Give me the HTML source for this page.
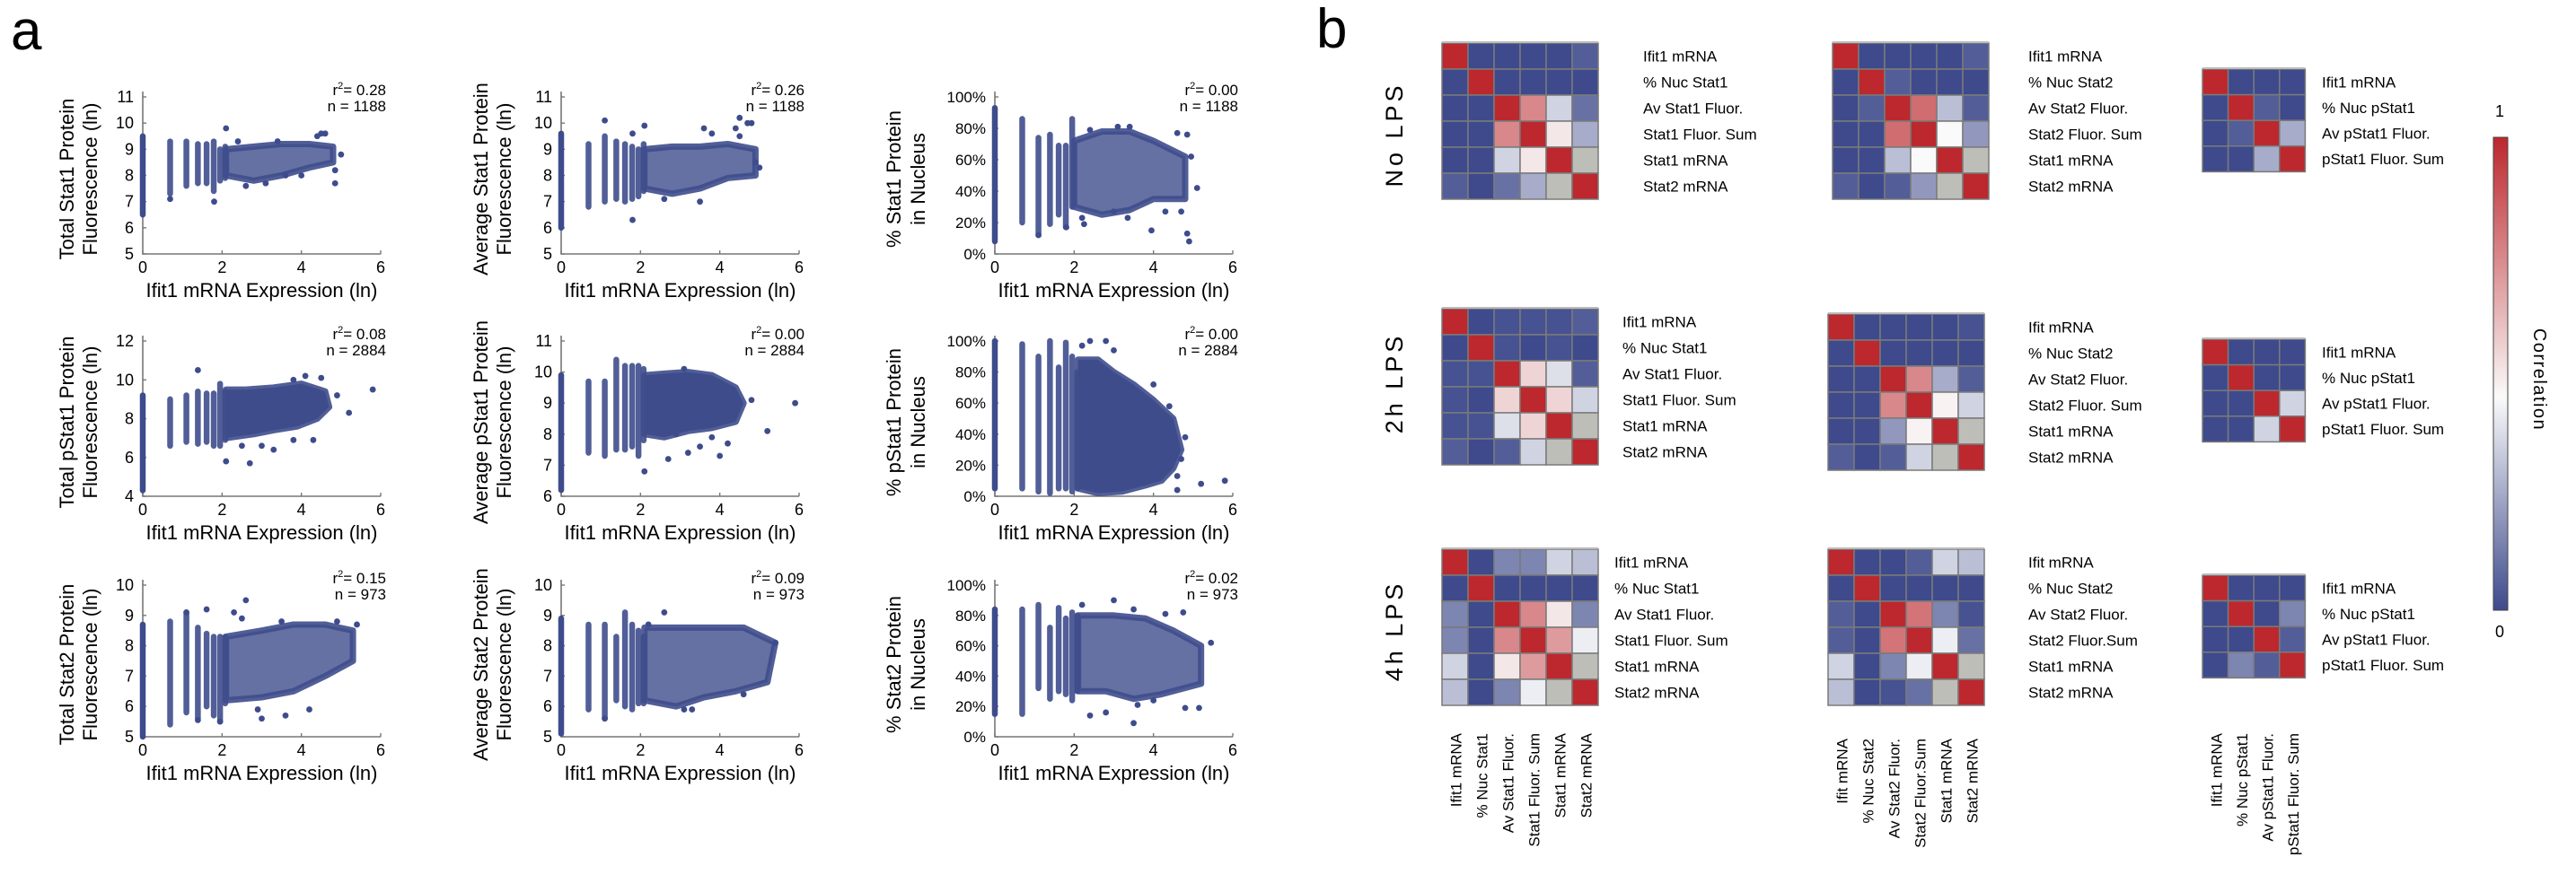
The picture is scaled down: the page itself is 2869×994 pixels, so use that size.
<!DOCTYPE html>
<html><head><meta charset="utf-8">
<style>
html,body{margin:0;padding:0;background:#fff;}
svg{display:block;font-family:"Liberation Sans",sans-serif;}
.nar{font-family:"Liberation Sans Narrow","Liberation Sans",sans-serif;}
</style></head>
<body>
<svg id="fig" width="2869" height="994" viewBox="0 0 2869 994" xmlns="http://www.w3.org/2000/svg">
<text x="12" y="55" font-size="62">a</text>
<text x="1466" y="53" font-size="62">b</text>
</svg>
<script>
// ---------- Scatter data (data units: x = ln Ifit1 mRNA, y = axis units) ----------
const p1Cols=[[0,6.5,9.5],[0.69,7.3,9.3],[1.1,7.6,9.3],[1.39,7.7,9.2],[1.61,7.7,9.2],[1.79,7.4,9.3],[1.95,7.8,9.0],[2.08,7.9,9.1]];
const p1Blob=[[2.1,8.0],[2.8,7.8],[3.5,8.0],[4.2,8.3],[4.8,8.5],[4.8,9.1],[4.2,9.2],[3.5,9.2],[2.8,9.1],[2.1,9.0]];
const p1Pts=[[2.1,9.8],[1.8,7.0],[0.69,7.1],[4.5,9.6],[4.6,9.6],[4.85,7.7],[4.85,8.2],[5.0,8.8],[2.6,7.6],[3.1,7.7],[4.0,8.0],[3.6,8.0],[4.4,9.5],[2.4,9.3],[3.4,9.3]];
const p2Cols=[[0,6.0,9.6],[0.69,6.8,9.2],[1.1,7.0,9.5],[1.39,7.1,9.3],[1.61,7.0,9.2],[1.79,7.1,9.1],[1.95,7.2,9.0],[2.08,7.4,9.2]];
const p2Blob=[[2.1,7.5],[2.8,7.3],[3.5,7.5],[4.2,7.9],[4.9,8.0],[4.9,9.0],[4.2,9.2],[3.5,9.1],[2.8,9.1],[2.1,9.0]];
const p2Pts=[[1.1,10.1],[1.8,6.3],[2.1,9.9],[3.6,9.8],[3.8,9.6],[4.4,9.8],[4.5,10.2],[4.7,10.0],[4.8,10.0],[3.5,7.0],[2.6,7.1],[4.9,8.5],[5.0,8.3],[4.5,9.5],[1.8,9.6]];
const p3Cols=[[0,8,93],[0.69,20,86],[1.1,12,74],[1.39,19,76],[1.61,25,69],[1.79,17,69],[1.95,30,86]];
const p3Blob=[[2.0,30],[2.7,25],[3.4,28],[4.0,35],[4.8,35],[4.8,62],[4.0,72],[3.4,78],[2.7,78],[2.0,72]];
const p3Pts=[[1.1,12],[1.8,17],[2.25,19],[3.95,15],[4.85,13],[4.9,8],[5.1,42],[2.4,79],[3.1,81],[3.4,81],[4.6,77],[4.85,76],[3.0,27],[3.35,23],[4.3,27],[4.7,27],[4.95,62],[2.2,23]];
const p4Cols=[[0,4.3,9.2],[0.69,6.6,9.0],[1.1,6.8,9.2],[1.39,6.7,9.4],[1.61,6.8,9.3],[1.79,6.6,9.3],[1.95,6.6,9.8],[2.08,6.9,9.4]];
const p4Blob=[[2.1,7.0],[2.8,7.2],[3.3,7.4],[3.9,7.6],[4.4,8.0],[4.7,8.6],[4.6,9.4],[4.0,9.8],[3.3,9.6],[2.6,9.5],[2.1,9.5]];
const p4Pts=[[1.39,10.5],[2.1,5.8],[2.7,5.7],[3.3,6.4],[3.0,6.6],[5.8,9.5],[5.2,8.3],[4.5,10.1],[4.1,10.2],[3.8,10.0],[3.8,6.9],[4.3,6.9],[2.5,6.6],[4.9,9.2]];
const p5Cols=[[0,6.2,9.9],[0.69,7.4,9.7],[1.1,7.3,9.7],[1.39,7.5,10.4],[1.61,7.5,10.2],[1.79,7.6,10.2],[1.95,7.3,10.2],[2.08,7.8,10.1]];
const p5Blob=[[2.1,8.0],[2.6,7.9],[3.2,8.1],[3.8,8.2],[4.4,8.4],[4.6,9.0],[4.4,9.5],[3.8,9.9],[3.2,10.0],[2.6,9.95],[2.1,9.9]];
const p5Pts=[[2.1,6.8],[2.7,7.2],[3.2,7.4],[3.5,7.6],[4.0,7.3],[4.2,7.7],[5.2,8.1],[5.9,9.0],[4.8,9.1],[3.1,10.1],[2.9,8.0],[3.8,7.9]];
const p6Cols=[[0,5,100],[0.69,5,98],[1.1,3,90],[1.39,2,100],[1.61,5,83],[1.79,5,99],[1.95,3,90],[2.08,5,80]];
const p6Blob=[[2.1,5],[2.6,2],[3.2,3],[3.8,7],[4.2,10],[4.5,18],[4.7,30],[4.5,50],[4.0,62],[3.5,72],[3.0,80],[2.6,88],[2.1,88]];
const p6Pts=[[5.2,8],[5.8,10],[4.8,38],[4.7,24],[4.4,58],[4.6,4],[2.8,100],[2.4,100],[3.0,94],[2.2,97],[4.0,72],[4.6,13]];
const p7Cols=[[0,5.0,8.7],[0.69,5.4,8.8],[1.1,5.8,9.1],[1.39,5.6,8.6],[1.61,6.0,8.4],[1.79,5.7,8.3],[1.95,5.5,8.3],[2.08,6.1,8.3]];
const p7Blob=[[2.1,6.2],[3.0,6.3],[3.8,6.5],[4.6,7.0],[5.3,7.5],[5.3,8.5],[4.6,8.7],[3.8,8.7],[3.0,8.5],[2.1,8.3]];
const p7Pts=[[1.61,9.2],[2.3,9.1],[2.6,9.5],[1.1,9.1],[2.5,8.9],[3.0,5.6],[3.6,5.7],[4.2,5.9],[2.9,5.9],[4.9,8.8],[5.4,8.7],[3.5,8.8],[1.95,5.5],[1.39,5.55]];
const p8Cols=[[0,5.1,8.9],[0.69,5.9,8.7],[1.1,5.6,8.7],[1.39,6.2,8.3],[1.61,6.0,9.1],[1.79,5.9,8.7],[1.95,6.1,8.5],[2.08,6.1,8.3]];
const p8Blob=[[2.1,6.2],[2.9,6.0],[3.6,6.3],[4.4,6.5],[5.2,6.8],[5.4,8.1],[4.6,8.6],[3.8,8.6],[3.0,8.6],[2.1,8.6]];
const p8Pts=[[2.6,9.1],[3.1,5.9],[3.3,5.9],[4.6,6.4],[5.4,8.1],[1.1,5.6],[2.2,8.7]];
const p9Cols=[[0,15,84],[0.69,15,84],[1.1,32,87],[1.39,25,72],[1.61,30,85],[1.79,28,78],[1.95,24,82],[2.08,30,80]];
const p9Blob=[[2.1,30],[2.8,30],[3.5,25],[4.2,28],[5.2,35],[5.2,60],[4.5,70],[3.8,78],[3.0,80],[2.1,80]];
const p9Pts=[[2.4,14],[2.8,16],[3.5,9],[4.8,19],[5.15,19],[5.45,62],[3.0,90],[2.2,87],[3.5,84],[4.75,82],[4.3,81],[3.6,21],[4.0,24]];
const xTicks=[0,2,4,6];
const yTicks1=[5,6,7,8,9,10,11], yTicks4=[4,6,8,10,12], yTicks5=[6,7,8,9,10,11], yTicks7=[5,6,7,8,9,10];
const pctTicks=[0,20,40,60,80,100];
const r2Vals=["0.28","0.26","0.00","0.08","0.00","0.00","0.15","0.09","0.02"];
const nVals=["1188","1188","1188","2884","2884","2884","973","973","973"];

// ---------- Heatmap data (correlation 0..1; -1 = grey/undefined) ----------
const hmNo1=[[1,0,0,0,0,0.05],[0,1,0,0,0,0],[0,0,1,0.75,0.35,0.1],[0,0,0.75,1,0.5,0.25],[0,0,0.35,0.5,1,-1],[0.05,0,0.1,0.25,-1,1]];
const hmNo2=[[1,0,0,0,0,0.05],[0,1,0.05,0,0,0],[0,0.05,1,0.82,0.3,0.05],[0,0,0.82,1,0.45,0.2],[0,0,0.3,0.45,1,-1],[0.05,0,0.05,0.2,-1,1]];
const hmNo3=[[1,0,0,0],[0,1,0.05,0],[0,0.05,1,0.25],[0,0,0.25,1]];
const hm2h1=[[1,0,0.02,0.02,0.02,0.05],[0,1,0.02,0,0.02,0],[0.02,0.02,1,0.55,0.38,0.05],[0.02,0,0.55,1,0.55,0.35],[0.02,0.02,0.38,0.55,1,-1],[0.05,0,0.05,0.35,-1,1]];
const hm2h2=[[1,0,0,0,0,0.02],[0,1,0,0,0,0],[0,0,1,0.75,0.25,0.05],[0,0,0.75,1,0.47,0.35],[0,0,0.2,0.47,1,-1],[0.05,0,0.05,0.35,-1,1]];
const hm2h3=[[1,0,0,0],[0,1,0,0],[0,0,1,0.35],[0,0,0.35,1]];
const hm4h1=[[1,0,0.15,0.15,0.35,0.3],[0,1,0,0,0,0],[0.15,0,1,0.75,0.5,0.15],[0.15,0,0.75,1,0.7,0.42],[0.35,0,0.5,0.7,1,-1],[0.3,0,0.15,0.42,-1,1]];
const hm4h2=[[1,0,0,0.05,0.35,0.3],[0,1,0,0,0,0],[0.05,0,1,0.8,0.15,0.02],[0.05,0,0.8,1,0.42,0.1],[0.35,0,0.15,0.42,1,-1],[0.3,0,0.02,0.1,-1,1]];
const hm4h3=[[1,0,0,0],[0,1,0,0.15],[0,0,1,0.05],[0,0.15,0.05,1]];
const labA=["Ifit1 mRNA","% Nuc Stat1","Av Stat1 Fluor.","Stat1 Fluor. Sum","Stat1 mRNA","Stat2 mRNA"];
const labBno=["Ifit1 mRNA","% Nuc Stat2","Av Stat2 Fluor.","Stat2 Fluor. Sum","Stat1 mRNA","Stat2 mRNA"];
const labB2h=["Ifit mRNA","% Nuc Stat2","Av Stat2 Fluor.","Stat2 Fluor. Sum","Stat1 mRNA","Stat2 mRNA"];
const labB4h=["Ifit mRNA","% Nuc Stat2","Av Stat2 Fluor.","Stat2 Fluor.Sum","Stat1 mRNA","Stat2 mRNA"];
const labC=["Ifit1 mRNA","% Nuc pStat1","Av pStat1 Fluor.","pStat1 Fluor. Sum"];
const conditions=["No LPS","2h LPS","4h LPS"];

const NS="http://www.w3.org/2000/svg";
const svg=document.getElementById('fig');
const DOT="#3e4c8c";
function mk(tag,attrs,parent){const e=document.createElementNS(NS,tag);for(const k in attrs)e.setAttribute(k,attrs[k]);(parent||svg).appendChild(e);return e;}
function txt(s,attrs,parent){const e=mk('text',attrs,parent);e.textContent=s;return e;}

function scatter(cfg){
  const g=mk('g',{});
  
  
  const sx=v=>cfg.x0+v/6*(cfg.x1-cfg.x0);
  const sy=v=>cfg.y0-(v-cfg.ymin)/(cfg.ymax-cfg.ymin)*(cfg.y0-cfg.y1);
  const cls=cfg.pct?'':'nar';
  const ax=mk('path',{d:`M${cfg.x0},${cfg.y1-6}V${cfg.y0}H${cfg.x1}`,fill:'none',stroke:'#777','stroke-width':1.6},g);
  
  
  xTicks.forEach(t=>{
    mk('line',{x1:sx(t),x2:sx(t),y1:cfg.y0,y2:cfg.y0-4,stroke:'#777','stroke-width':1.4},g);
    const l=txt(String(t),{x:sx(t),y:cfg.y0+21,'font-size':18,'text-anchor':'middle',class:cls},g);
    
    
  });
  cfg.ticks.forEach(t=>{
    mk('line',{x1:cfg.x0,x2:cfg.x0+4,y1:sy(t),y2:sy(t),stroke:'#777','stroke-width':1.4},g);
    const l=txt(cfg.pct?t+'%':String(t),{x:cfg.x0-10,y:sy(t)+6,'font-size':cfg.pct?17:18,'text-anchor':'end',class:cls},g);
    
    
  });
  const bl=mk('polygon',{points:cfg.blob.map(p=>sx(p[0])+','+sy(p[1])).join(' '),fill:DOT,'fill-opacity':cfg.op,stroke:DOT,'stroke-width':7,'stroke-linejoin':'round','stroke-opacity':0.9},g);
  
  
  cfg.cols.forEach(c=>{
    const l=mk('line',{x1:sx(c[0]),x2:sx(c[0]),y1:sy(c[1]),y2:sy(c[2]),stroke:DOT,'stroke-width':6.5,'stroke-linecap':'round','stroke-opacity':c[0]===0?1:0.9},g);
    
    
  });
  cfg.pts.forEach(p=>{
    const c=mk('circle',{cx:sx(p[0]),cy:sy(p[1]),r:3.4,fill:DOT},g);
    
    
  });
  const xt=txt('Ifit1 mRNA Expression (ln)',{x:(cfg.x0+cfg.x1)/2,y:cfg.y0+48,'font-size':22,'text-anchor':'middle',textLength:258,lengthAdjust:'spacingAndGlyphs'},g);
  
  
  const cy=(cfg.y0+cfg.y1)/2+4;
  cfg.ytitle.forEach((s,i)=>{
    const bx=cfg.tx[i];
    const t=txt(s,{x:bx,y:cy,'font-size':22,'text-anchor':'middle',transform:`rotate(-90 ${bx} ${cy})`},g);
    
    
  });
  const r=txt('',{x:cfg.x1+6,y:cfg.y1-2,'font-size':17,'text-anchor':'end',class:cls},g);
  
  
  const t1=mk('tspan',{},r);t1.textContent='r';
  const t2=mk('tspan',{dy:-7,'font-size':11},r);t2.textContent='2';
  const t3=mk('tspan',{dy:7},r);t3.textContent='= '+cfg.r2;
  const n=txt('n = '+cfg.n,{x:cfg.x1+6,y:cfg.y1+16,'font-size':17,'text-anchor':'end',class:cls},g);
  
  
}
const colX=[[159,424],[625,890],[1108,1373]];
const rowY=[[283,108],[553,380],[821,652]];
const tX=[[82,108],[543,569],[1003,1030]];
const defs=[
 {name:'scatter-total-stat1',cols:p1Cols,blob:p1Blob,pts:p1Pts,ymin:5,ymax:11,ticks:yTicks1,ytitle:['Total Stat1 Protein','Fluorescence (ln)'],op:0.8},
 {name:'scatter-average-stat1',cols:p2Cols,blob:p2Blob,pts:p2Pts,ymin:5,ymax:11,ticks:yTicks1,ytitle:['Average Stat1 Protein','Fluorescence (ln)'],op:0.8},
 {name:'scatter-nuclear-stat1',cols:p3Cols,blob:p3Blob,pts:p3Pts,ymin:0,ymax:100,ticks:pctTicks,pct:true,ytitle:['% Stat1 Protein','in Nucleus'],op:0.8},
 {name:'scatter-total-pstat1',cols:p4Cols,blob:p4Blob,pts:p4Pts,ymin:4,ymax:12,ticks:yTicks4,ytitle:['Total pStat1 Protein','Fluorescence (ln)'],op:1},
 {name:'scatter-average-pstat1',cols:p5Cols,blob:p5Blob,pts:p5Pts,ymin:6,ymax:11,ticks:yTicks5,ytitle:['Average pStat1 Protein','Fluorescence (ln)'],op:1},
 {name:'scatter-nuclear-pstat1',cols:p6Cols,blob:p6Blob,pts:p6Pts,ymin:0,ymax:100,ticks:pctTicks,pct:true,ytitle:['% pStat1 Protein','in Nucleus'],op:1},
 {name:'scatter-total-stat2',cols:p7Cols,blob:p7Blob,pts:p7Pts,ymin:5,ymax:10,ticks:yTicks7,ytitle:['Total Stat2 Protein','Fluorescence (ln)'],op:0.8},
 {name:'scatter-average-stat2',cols:p8Cols,blob:p8Blob,pts:p8Pts,ymin:5,ymax:10,ticks:yTicks7,ytitle:['Average Stat2 Protein','Fluorescence (ln)'],op:0.8},
 {name:'scatter-nuclear-stat2',cols:p9Cols,blob:p9Blob,pts:p9Pts,ymin:0,ymax:100,ticks:pctTicks,pct:true,ytitle:['% Stat2 Protein','in Nucleus'],op:0.8}
];
defs.forEach((d,i)=>{
  const r=Math.floor(i/3),c=i%3;
  d.x0=colX[c][0];d.x1=colX[c][1];d.y0=rowY[r][0];d.y1=rowY[r][1];d.tx=tX[c];
  d.r2=r2Vals[i];d.n=nVals[i];
  scatter(d);
});

function cmap(v){
  if(v<0) return 'rgb(190,190,185)';
  const B=[62,74,140],W=[250,250,250],R=[188,40,45];
  let a,b,t;
  if(v<0.45){a=B;b=W;t=v/0.45;}else{a=W;b=R;t=(v-0.45)/0.55;}
  return 'rgb('+a.map((x,i)=>Math.round(x+(b[i]-x)*t)).join(',')+')';
}
function heatmap(M,labels,x,y,lx,name){
  const g=mk('g',{});
  
  
  const n=M.length,cs=n===6?29:28.6;
  M.forEach((row,i)=>row.forEach((v,j)=>{
    const r=mk('rect',{x:x+j*cs,y:y+i*cs,width:cs,height:cs,fill:cmap(v),stroke:'#7a7a7a','stroke-width':1.5},g);
    
    
  }));
  mk('line',{x1:x,x2:x+n*cs,y1:y-1,y2:y-1,stroke:'#bbb','stroke-width':2},g);
  labels.forEach((s,i)=>{
    const t=txt(s,{x:lx,y:y+i*cs+cs/2+6,'font-size':17,class:'nar'},g);
    
    
  });
  return cs;
}
const mats=[[hmNo1,hmNo2,hmNo3],[hm2h1,hm2h2,hm2h3],[hm4h1,hm4h2,hm4h3]];
const labs=[[labA,labBno,labC],[labA,labB2h,labC],[labA,labB4h,labC]];
const hmPos=[[[1606,48,1830],[2041,48,2259],[2453,77,2586]],
             [[1606,344,1807],[2036,350,2259],[2453,378,2586]],
             [[1606,612,1798],[2036,612,2259],[2453,641,2586]]];
const condY=[150,427,703];
conditions.forEach((c,r)=>{
  const t=txt(c,{x:1562,y:condY[r],'font-size':27,'letter-spacing':4,'text-anchor':'middle',transform:`rotate(-90 1562 ${condY[r]})`});
  
  
  for(let k=0;k<3;k++){
    const p=hmPos[r][k];
    heatmap(mats[r][k],labs[r][k],p[0],p[1],p[2],'heatmap-'+c.toLowerCase().replace(' ','-')+'-'+(k+1));
  }
});
const botEnd=[817,823,817];
[labA,labB4h,labC].forEach((L,k)=>{
  const p=hmPos[2][k],cs=L.length===6?29:28.6;
  L.forEach((s,j)=>{
    const bx=p[0]+j*cs+cs/2+7,by=botEnd[k];
    const t=txt(s,{x:bx,y:by,'font-size':17,'text-anchor':'end',transform:`rotate(-90 ${bx} ${by})`});
    
    
  });
});
const gd=mk('defs',{});
const lg=mk('linearGradient',{id:'cb',x1:0,y1:1,x2:0,y2:0},gd);
[0,0.15,0.3,0.45,0.6,0.75,0.9,1].forEach(v=>mk('stop',{offset:v,'stop-color':cmap(v)},lg));
const cb=mk('rect',{x:2777,y:153,width:16,height:527,fill:'url(#cb)',stroke:'#444','stroke-width':1});


const c1=txt('1',{x:2784,y:130,'font-size':18,'text-anchor':'middle'});


const c0=txt('0',{x:2784,y:710,'font-size':18,'text-anchor':'middle'});


const ct=txt('Correlation',{x:2822,y:423,'font-size':20,'letter-spacing':1.5,'text-anchor':'middle',transform:'rotate(90 2822 423)'});


</script>
</body></html>
